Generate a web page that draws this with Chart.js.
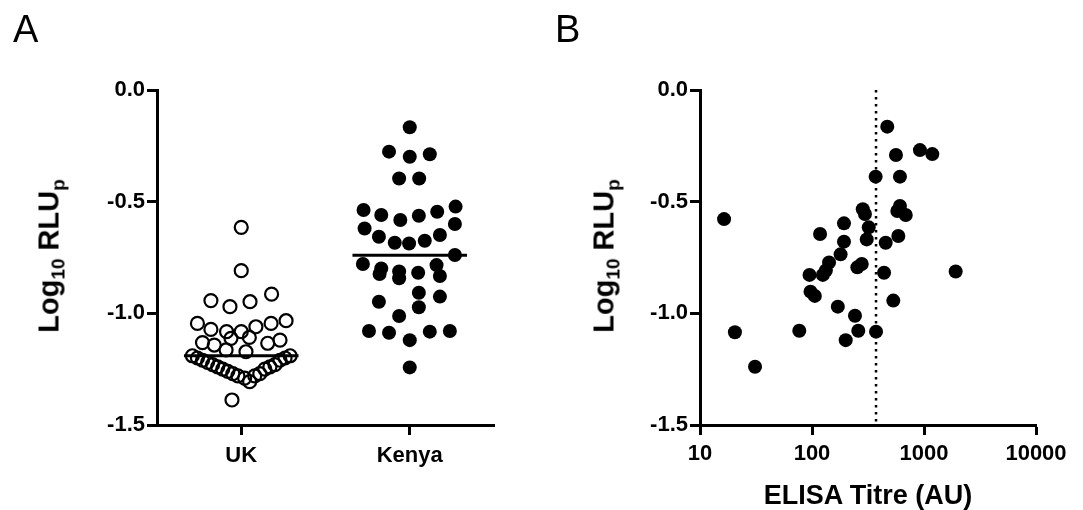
<!DOCTYPE html>
<html>
<head>
<meta charset="utf-8">
<script src="https://cdn.jsdelivr.net/npm/chart.js@4.4.1/dist/chart.umd.min.js"></script>
<style>
  body { margin: 0; background: #fff; }
  .wrap { position: relative; width: 1083px; height: 510px; overflow: hidden; font-family: "Liberation Sans", Arial, sans-serif; }
  canvas { position: absolute; top: 0; }
  .letter { position: absolute; font-size: 38px; line-height: 1; color: #000; }
  .ytitle { position: absolute; font-size: 29px; font-weight: bold; line-height: 1; white-space: nowrap;
            transform: translate(-50%, -50%) rotate(-90deg); }
  .ytitle sub { font-size: 19px; vertical-align: -6px; line-height: 0; }
  .xtitle { position: absolute; font-size: 27px; font-weight: bold; line-height: 1; white-space: nowrap;
            transform: translate(-50%, -50%); }
</style>
</head>
<body>
<div class="wrap">
  <canvas id="chartA" width="541" height="510" style="left:0"></canvas>
  <canvas id="chartB" width="542" height="510" style="left:541px"></canvas>
  <div class="letter" style="left:13px; top:10px">A</div>
  <div class="letter" style="left:555px; top:10px">B</div>
  <div class="ytitle" style="left:49px; top:256px">Log<sub>10</sub> RLU<sub>p</sub></div>
  <div class="ytitle" style="left:604px; top:256px">Log<sub>10</sub> RLU<sub>p</sub></div>
  <div class="xtitle" style="left:868px; top:495px">ELISA Titre (AU)</div>
</div>
<script>
// panel A: groups (x = 1 for UK, 2 for Kenya, spread as drawn)
const categories = ['UK', 'Kenya'];
const ukX = [1.00, 1.00, 0.82, 0.933, 1.052, 1.18,
  0.74, 0.82, 0.913, 1.00, 1.087, 1.177, 1.266,
  0.77, 0.84, 0.939, 1.048, 1.157, 1.23, 0.91, 1.028,
  0.71, 0.74, 0.77, 0.80, 0.83, 0.86, 0.89, 0.92, 0.95, 0.98,
  1.02, 1.05, 1.08, 1.11, 1.14, 1.17, 1.20, 1.23, 1.26, 1.29,
  0.945];
const ukY = [-0.615, -0.809, -0.943, -0.970, -0.948, -0.914,
  -1.045, -1.072, -1.082, -1.082, -1.060, -1.045, -1.033,
  -1.131, -1.142, -1.112, -1.108, -1.134, -1.120, -1.164, -1.172,
  -1.19, -1.20, -1.21, -1.22, -1.23, -1.24, -1.25, -1.26, -1.27, -1.28,
  -1.29, -1.306, -1.28, -1.27, -1.25, -1.24, -1.23, -1.21, -1.20, -1.19,
  -1.388];
const kenyaX = [2.000, 1.877, 2.000, 2.119, 1.937, 2.056,
  1.726, 1.831, 1.944, 2.054, 2.163, 2.272,
  1.732, 1.817, 1.911, 1.996, 2.089, 2.179, 2.268,
  2.268, 1.722, 1.831, 1.821, 1.937, 1.937, 2.050, 2.159, 2.179,
  2.054, 2.179, 1.817, 2.054, 1.937,
  1.758, 1.877, 2.000, 2.119, 2.238, 2.000];
const kenyaY = [-0.167, -0.276, -0.299, -0.288, -0.396, -0.396,
  -0.537, -0.560, -0.582, -0.563, -0.545, -0.522,
  -0.620, -0.657, -0.684, -0.687, -0.675, -0.649, -0.600,
  -0.739, -0.779, -0.799, -0.824, -0.813, -0.843, -0.818, -0.784, -0.833,
  -0.908, -0.925, -0.948, -0.973, -1.012,
  -1.079, -1.087, -1.120, -1.082, -1.079, -1.242];
const ukMean = -1.19;
const kenyaMean = -0.74;

// panel B: ELISA titre vs log10 RLUp
const elisaTitre = [16.4, 20.5, 31, 77, 95, 97, 106, 118, 125, 133, 142, 170, 180, 193, 193,
  200, 242, 254, 259, 278, 284, 297, 308, 321, 373, 370, 440, 455, 470, 532,
  562, 578, 590, 610, 610, 687, 920, 1186, 1918];
const elisaRlu = [-0.578, -1.085, -1.239, -1.078, -0.828, -0.903, -0.922, -0.645, -0.828, -0.808,
  -0.772, -0.970, -0.736, -0.597, -0.679, -1.120, -1.011, -0.794, -1.078, -0.779,
  -0.534, -0.555, -0.669, -0.615, -1.082, -0.388, -0.818, -0.684, -0.164, -0.943,
  -0.291, -0.542, -0.654, -0.388, -0.519, -0.560, -0.269, -0.287, -0.813];
const cutoff = 373;

const yTicks = [0, -0.5, -1.0, -1.5];
const elisaTicks = [10, 100, 1000, 10000];

const font = { family: '"Liberation Sans", Arial, sans-serif', weight: 'bold', size: 22 };

function axisStyle() {
  return {
    grid: { display: true, drawOnChartArea: false, drawTicks: true, tickLength: 10, tickWidth: 3, tickColor: '#000' },
    border: { display: true, width: 3, color: '#000' }
  };
}

function yAxis(width) {
  return {
    min: -1.5, max: 0,
    ...axisStyle(),
    afterBuildTicks: s => { s.ticks = yTicks.map(v => ({ value: v })); },
    afterFit: s => { s.width = width; },
    ticks: { color: '#000', font, padding: 2, callback: v => v.toFixed(1) }
  };
}

const pts = (xs, ys) => xs.map((x, i) => ({ x, y: ys[i] }));

new Chart(document.getElementById('chartA'), {
  type: 'scatter',
  data: {
    datasets: [
      { data: pts(ukX, ukY), pointRadius: 6.5, pointBorderWidth: 2.2, borderColor: '#000', backgroundColor: 'rgba(0,0,0,0)' },
      { data: pts(kenyaX, kenyaY), pointRadius: 7, pointBorderWidth: 0, borderColor: '#000', backgroundColor: '#000' },
      { type: 'line', data: [{ x: 1 - 0.34, y: ukMean }, { x: 1 + 0.34, y: ukMean }], borderColor: '#000', borderWidth: 3, pointRadius: 0 },
      { type: 'line', data: [{ x: 2 - 0.34, y: kenyaMean }, { x: 2 + 0.34, y: kenyaMean }], borderColor: '#000', borderWidth: 3, pointRadius: 0 }
    ]
  },
  options: {
    responsive: false,
    animation: false,
    layout: { padding: { top: 90, right: 47, left: 0, bottom: 0 } },
    plugins: { legend: { display: false }, tooltip: { enabled: false } },
    scales: {
      x: {
        type: 'linear', min: 0.5, max: 2.5,
        ...axisStyle(),
        afterBuildTicks: s => { s.ticks = categories.map((c, i) => ({ value: i + 1 })); },
        afterFit: s => { s.height = 85; },
        ticks: { color: '#000', font, padding: 8, callback: v => categories[v - 1] }
      },
      y: yAxis(157)
    }
  }
});

new Chart(document.getElementById('chartB'), {
  type: 'scatter',
  data: {
    datasets: [
      { data: pts(elisaTitre, elisaRlu), pointRadius: 7, pointBorderWidth: 0, backgroundColor: '#000' },
      { type: 'line', data: [{ x: cutoff, y: 0 }, { x: cutoff, y: -1.5 }], borderColor: '#000', borderWidth: 2.5, borderDash: [2.5, 4.5], pointRadius: 0 }
    ]
  },
  options: {
    responsive: false,
    animation: false,
    layout: { padding: { top: 90, right: 47, left: 0, bottom: 0 } },
    plugins: { legend: { display: false }, tooltip: { enabled: false } },
    scales: {
      x: {
        type: 'logarithmic', min: 10, max: 10000,
        ...axisStyle(),
        afterBuildTicks: s => { s.ticks = elisaTicks.map(v => ({ value: v })); },
        afterFit: s => { s.height = 85; },
        ticks: { color: '#000', font, padding: 6, callback: v => String(v) }
      },
      y: yAxis(159)
    }
  }
});
</script>
</body>
</html>
